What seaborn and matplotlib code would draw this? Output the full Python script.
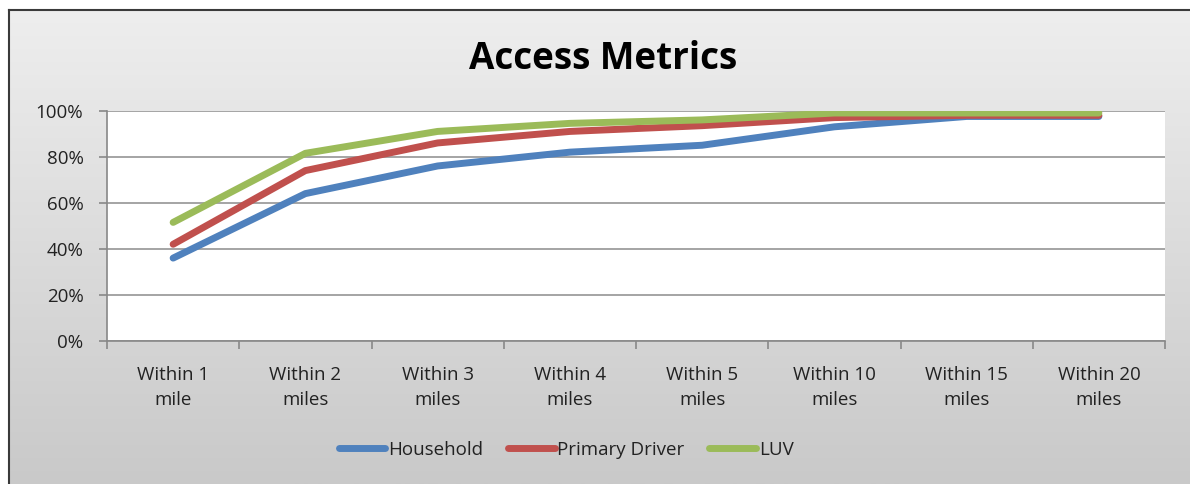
import numpy as np
import pandas as pd
import matplotlib
matplotlib.use("Agg")
import matplotlib.pyplot as plt
import seaborn as sns
from matplotlib.lines import Line2D

categories = ["Within 1\nmile", "Within 2\nmiles", "Within 3\nmiles", "Within 4\nmiles",
              "Within 5\nmiles", "Within 10\nmiles", "Within 15\nmiles", "Within 20\nmiles"]
household = [36, 64, 76, 82, 85, 93, 97.5, 97.5]
primary_driver = [42, 74, 86, 91, 93.5, 97, 98, 98]
luv = [51.5, 81.5, 91, 94.5, 96, 99, 99, 99]
series_names = ["Household", "Primary Driver", "LUV"]
colors = ["#4F81BD", "#C0504D", "#9BBB59"]
yticks = [0, 20, 40, 60, 80, 100]

df = pd.DataFrame({
    "pos": list(range(len(categories))) * 3,
    "value": household + primary_driver + luv,
    "series": sum([[n] * len(categories) for n in series_names], []),
})

sns.set_theme(style="white")
plt.rcParams["font.family"] = ["Open Sans", "DejaVu Sans"]

W, H = 1190, 484
fig = plt.figure(figsize=(W / 100, H / 100), dpi=100, facecolor="white")

# gradient background with border
bg = fig.add_axes([9 / W, 0, 1 - 9 / W, 1 - 10 / H], zorder=-10)
grad = np.linspace(0, 1, 256).reshape(-1, 1)
top = np.array([0xee, 0xee, 0xee]) / 255
bot = np.array([0xc9, 0xc9, 0xc9]) / 255
img = top + (bot - top) * grad[..., None]
bg.imshow(img, aspect="auto", extent=[0, 1, 0, 1], origin="upper")
bg.set_xlim(0, 1); bg.set_ylim(0, 1)
bg.set_xticks([]); bg.set_yticks([])
for s in ["right", "bottom"]:
    bg.spines[s].set_visible(False)
for s in ["left", "top"]:
    bg.spines[s].set_color("#3a3a3a")
    bg.spines[s].set_linewidth(1.5)

ax = fig.add_axes([107 / W, 1 - 341 / H, (1165 - 107) / W, (341 - 110.7) / H])
ax.set_facecolor("white")

sns.lineplot(data=df, x="pos", y="value", hue="series", palette=colors,
             hue_order=series_names, linewidth=5, ax=ax, legend=False,
             solid_capstyle="round", solid_joinstyle="round")

ax.set_xlim(-0.5, len(categories) - 0.5)
ax.set_ylim(0, 100)
ax.set_yticks(yticks)
ax.set_yticklabels([f"{v}%" for v in yticks], fontsize=13.5, color="#222222")
ax.set_xticks(range(len(categories)))
ax.set_xticklabels(categories, fontsize=13.5, color="#222222", linespacing=1.5)
ax.set_xticks(np.arange(-0.5, len(categories)), minor=True)
ax.tick_params(axis="x", which="major", length=0, pad=18)
ax.tick_params(axis="x", which="minor", length=6, color="#888888", width=1.2, direction="out", bottom=True)
ax.tick_params(axis="y", length=6, color="#888888", width=1.2, direction="out", left=True, pad=11)
ax.set_xlabel(""); ax.set_ylabel("")
ax.grid(axis="y", color="#8c8c8c", linewidth=1.1)
ax.set_axisbelow(True)
for s in ["top", "right"]:
    ax.spines[s].set_visible(False)
for s in ["left", "bottom"]:
    ax.spines[s].set_color("#888888")
    ax.spines[s].set_linewidth(1.2)

fig.text(603 / W, 1 - 59 / H, "Access Metrics", ha="center", va="center",
         fontsize=26.5, fontweight="bold", color="black")

handles = [Line2D([0], [0], color=c, linewidth=5, solid_capstyle="round") for c in colors]
fig.legend(handles, series_names, loc="center", bbox_to_anchor=(566 / W, 1 - 450 / H),
           ncol=3, frameon=False, fontsize=13.5, handlelength=2.5, handletextpad=0.15,
           columnspacing=1.3, labelcolor="#222222")

fig.savefig("out.png", dpi=100, facecolor="white")
